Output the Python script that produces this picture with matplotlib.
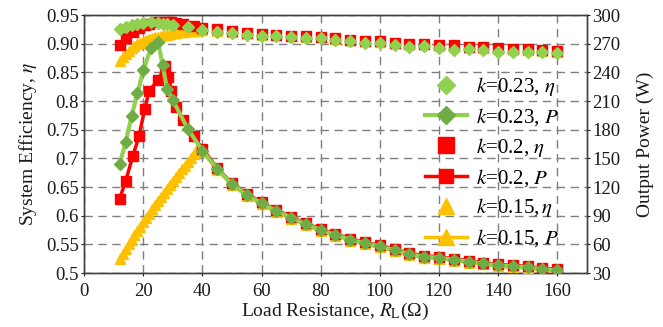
import matplotlib
matplotlib.use("Agg")
import matplotlib.pyplot as plt

plt.rcParams["font.family"] = ["Liberation Serif", "DejaVu Serif"]
plt.rcParams["mathtext.fontset"] = "stix"

GREEN = "#92D050"
GREEN_DK = "#6FAC46"
RED = "#FF0000"
YELLOW = "#FFC000"
GRID = "#7F7F7F"
TXT = "#1A1A1A"

# shared tail of the sweep (45..160 ohm)
x_tail = [45, 50, 55, 60, 65, 70, 75, 80, 85, 90, 95, 100, 105, 110, 115, 120,
          125, 130, 135, 140, 145, 150, 155, 160]

# k = 0.23
x_k23 = [12, 14, 16, 18, 20, 22.5, 25, 26.5, 28, 30, 35, 40] + x_tail
eta_k23 = [0.925, 0.930, 0.933, 0.935, 0.936, 0.937, 0.936, 0.935, 0.935, 0.932, 0.929, 0.924,
           0.921, 0.918, 0.915, 0.913, 0.913, 0.911, 0.910, 0.910, 0.906, 0.904, 0.901, 0.901,
           0.898, 0.895, 0.896, 0.892, 0.889, 0.891, 0.889, 0.886, 0.886, 0.886, 0.885, 0.883]
p_k23 = [144, 167, 194, 218, 242, 265, 272, 248, 223, 211, 181, 158,
         139, 123, 112, 103, 95, 88, 81, 75, 70, 65, 61, 58,
         54, 50, 47, 46, 44, 42, 40, 38, 37, 36, 34, 33]

# k = 0.2
x_k20 = [12, 14, 16.5, 18.5, 20.5, 22, 25, 27.5, 28.5, 29.5, 31, 33.5, 37, 40] + x_tail
eta_k20 = [0.897, 0.910, 0.920, 0.927, 0.932, 0.935, 0.937, 0.938, 0.938, 0.937, 0.936, 0.934, 0.931, 0.928,
           0.925, 0.922, 0.919, 0.917, 0.915, 0.914, 0.913, 0.911, 0.910, 0.907, 0.905, 0.904,
           0.902, 0.900, 0.899, 0.898, 0.897, 0.895, 0.894, 0.892, 0.891, 0.890, 0.889, 0.888]
p_k20 = [108, 126, 153, 173, 202, 221, 232, 247, 235, 221, 204, 190, 173, 160,
         140, 124, 113, 104, 96, 89, 82, 76, 71, 66, 62, 59,
         55, 51, 48, 47, 45, 43, 41, 39, 38, 37, 35, 34]

# k = 0.15
x_k15 = [12, 13, 14, 15, 16, 17, 18, 19, 20, 21, 22, 23, 24, 25, 26, 27, 28, 29, 30,
         31, 32, 33, 34, 35, 36, 37, 38, 40] + x_tail
eta_k15 = [0.869, 0.876, 0.882, 0.887, 0.892, 0.896, 0.899, 0.902, 0.904, 0.906, 0.908, 0.910,
           0.911, 0.912, 0.914, 0.915, 0.916, 0.917, 0.918, 0.919, 0.920, 0.921, 0.921, 0.922,
           0.922, 0.923, 0.923, 0.924,
           0.922, 0.920, 0.918, 0.916, 0.915, 0.913, 0.912, 0.911, 0.909, 0.907, 0.905, 0.903,
           0.902, 0.900, 0.899, 0.897, 0.896, 0.894, 0.893, 0.891, 0.890, 0.889, 0.888, 0.886]
p_k15 = [45, 50, 55, 60, 65, 69.5, 74, 78.5, 83, 87.5, 92, 96.5, 101, 105, 109.5, 114, 118,
         122, 126.5, 130.5, 134.5, 138.5, 142.5, 146.5, 150.5, 154.5, 160, 157,
         138, 122, 111, 102, 94, 87, 80, 74, 69, 64, 60, 57,
         53, 49, 46, 45, 43, 41, 39, 37, 36, 35, 33, 32]

eta_ticks = [0.5, 0.55, 0.6, 0.65, 0.7, 0.75, 0.8, 0.85, 0.9, 0.95]
eta_labels = ["0.5", "0.55", "0.6", "0.65", "0.7", "0.75", "0.8", "0.85", "0.90", "0.95"]
p_ticks = [30, 60, 90, 120, 150, 180, 210, 240, 270, 300]
x_ticks = [0, 20, 40, 60, 80, 100, 120, 140, 160]

fig = plt.figure(figsize=(6.63, 3.27), dpi=100)
ax = fig.add_axes([0.127, 0.165, 0.758, 0.789])
ax2 = ax.twinx()

ax.set_xlim(0, 170)
ax.set_ylim(0.5, 0.95)
ax2.set_ylim(30, 300)

ax.set_xticks(x_ticks)
ax.set_yticks(eta_ticks)
ax.set_yticklabels(eta_labels)
ax2.set_yticks(p_ticks)

ax.grid(True, color=GRID, linestyle=(0, (6, 4)), linewidth=1.0, zorder=0)
ax.set_axisbelow(True)

for a in (ax, ax2):
    a.tick_params(length=2, width=0.8, labelsize=13.5, colors=TXT, pad=2)
    for s in a.spines.values():
        s.set_color("#404040")
        s.set_linewidth(1.0)
ax.tick_params(axis="x", pad=5)

# efficiency markers (left axis)
h_e15, = ax.plot(x_k15, eta_k15, ls="none", marker="^", ms=7.5, color=YELLOW, zorder=3)
h_e20, = ax.plot(x_k20, eta_k20, ls="none", marker="s", ms=7.5, color=RED, zorder=4)
h_e23, = ax.plot(x_k23, eta_k23, ls="none", marker="D", ms=6, color=GREEN, zorder=5)

# output power (right axis)
h_p15, = ax2.plot(x_k15, p_k15, color=YELLOW, lw=2.5, marker="^", ms=7, zorder=3)
h_p20, = ax2.plot(x_k20, p_k20, color=RED, lw=2.5, marker="s", ms=6.5, zorder=4)
h_p23, = ax2.plot(x_k23, p_k23, color=GREEN, lw=3, marker="D", ms=6,
                  mfc=GREEN_DK, mec=GREEN_DK, zorder=5)

ax.set_xlabel("Load Resistance, $R_{\\rm L}$(Ω)", fontsize=14, color=TXT, labelpad=1)
ax.set_ylabel("System Efficiency, $\\eta$", fontsize=14, color=TXT, labelpad=5)
ax2.set_ylabel("Output Power (W)", fontsize=14, color=TXT, labelpad=12)

handles = [h_e23, h_p23, h_e20, h_p20, h_e15, h_p15]
labels = ["$k$=0.23, $\\eta$", "$k$=0.23, $P$", "$k$=0.2, $\\eta$",
          "$k$=0.2, $P$", "$k$=0.15,$\\,\\eta$", "$k$=0.15, $P$"]
ax2.legend(handles, labels, loc="upper left", frameon=False, fontsize=15,
           bbox_to_anchor=(425 / 663, 1 - 75 / 327), bbox_transform=fig.transFigure,
           borderpad=0, borderaxespad=0, handlelength=2.0, handletextpad=0.45,
           labelspacing=0.38, markerscale=1.6)

fig.savefig("out.png", dpi=100)
